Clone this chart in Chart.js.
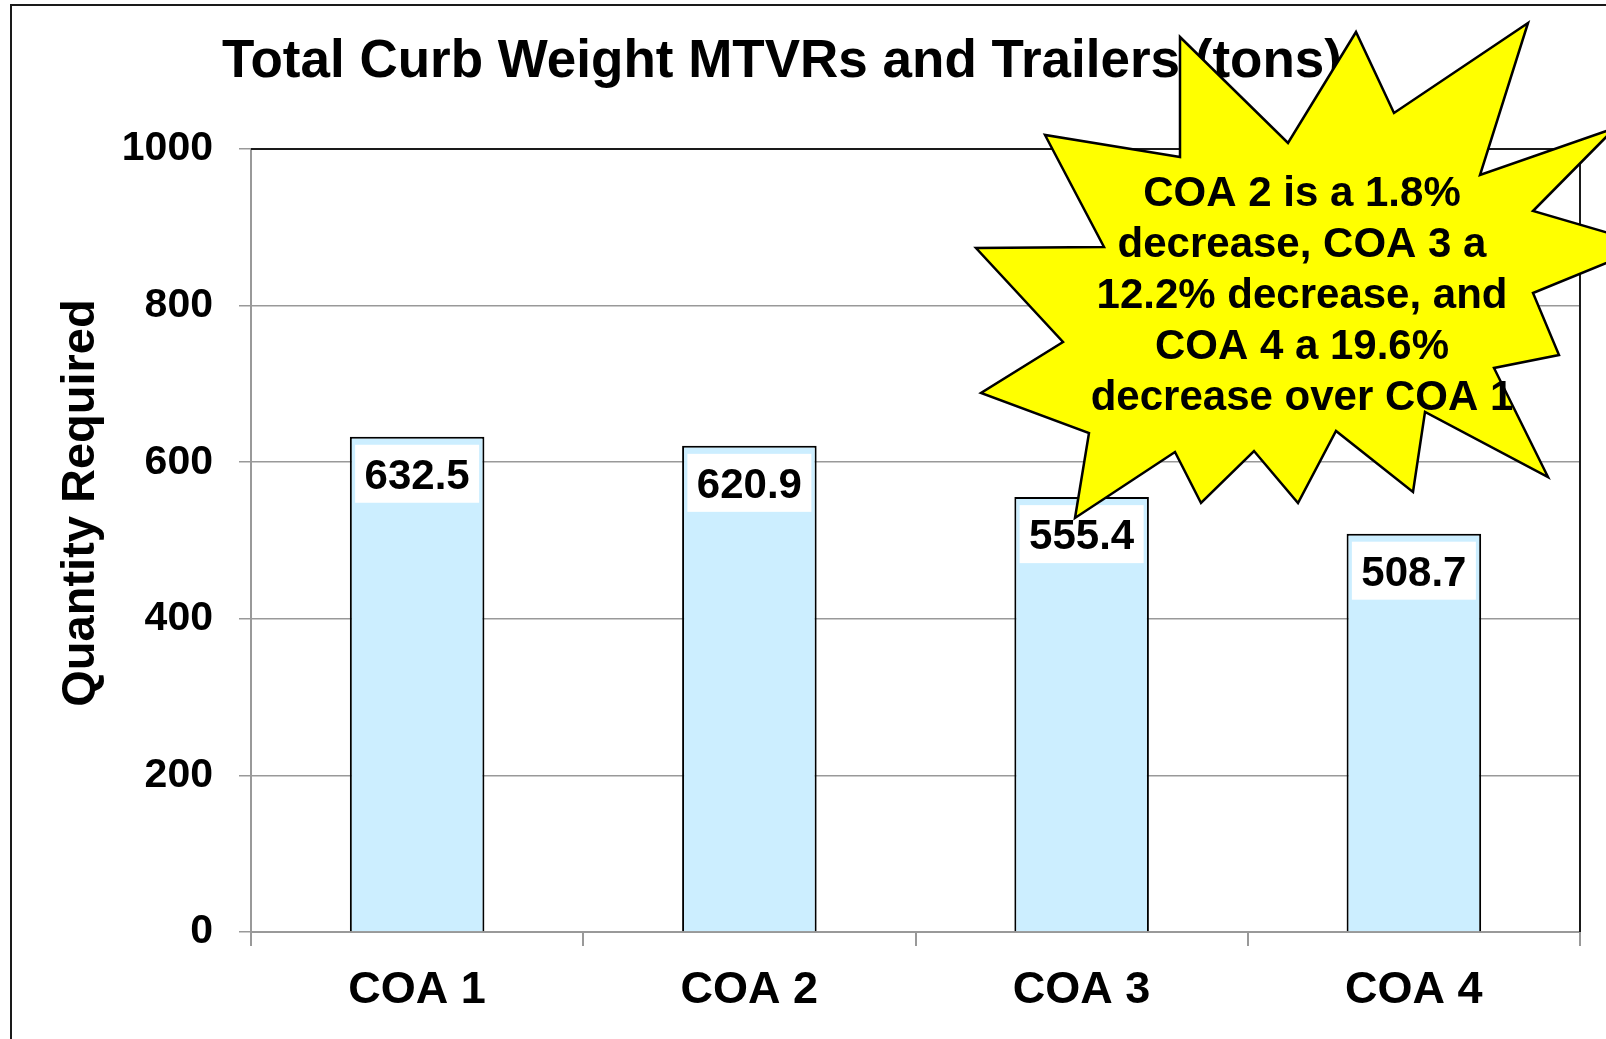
<!DOCTYPE html>
<html>
<head>
<meta charset="utf-8">
<title>Total Curb Weight MTVRs and Trailers</title>
<script src="https://cdn.jsdelivr.net/npm/chart.js@4.4.1/dist/chart.umd.min.js"></script>
<style>
  html, body { margin: 0; padding: 0; background: #fff; overflow: hidden; }
  canvas { display: block; }
</style>
</head>
<body>
<canvas id="curbChart" width="1606" height="1039"></canvas>
<script>
const categories = ['COA 1', 'COA 2', 'COA 3', 'COA 4'];
const curbWeight = [632.5, 620.9, 555.4, 508.7];
const yTickValues = [0, 200, 400, 600, 800, 1000];
const chartTitle = 'Total Curb Weight MTVRs and Trailers (tons)';
const yAxisTitle = 'Quantity Required';
const calloutLines = ['COA 2 is a 1.8%', 'decrease, COA 3 a', '12.2% decrease, and', 'COA 4 a 19.6%', 'decrease over COA 1'];

// outline of the yellow starburst callout (page pixels)
const burst = [
    [1180, 37], [1288, 143], [1356, 32], [1394, 113], [1528, 23], [1480, 175],
    [1615, 128], [1533, 211], [1650, 245], [1533, 293], [1559, 355], [1494, 368],
    [1548, 477], [1425, 412], [1413, 492], [1336, 431], [1298, 503], [1254, 451],
    [1201, 503], [1175, 452], [1075, 518], [1089, 433], [981, 393], [1063, 342],
    [976, 248], [1104, 247], [1045, 135], [1180, 157]
];

const FONT = '"Liberation Sans", Arial, Helvetica, sans-serif';

const decorations = {
    id: 'decorations',
    beforeDraw(chart) {
        const ctx = chart.ctx;
        ctx.save();
        ctx.fillStyle = '#ffffff';
        ctx.fillRect(0, 0, chart.width, chart.height);
        ctx.restore();
    },
    afterDatasetsDraw(chart) {
        const ctx = chart.ctx;
        const area = chart.chartArea;
        ctx.save();

        // value boxes at the top of each bar
        const meta = chart.getDatasetMeta(0);
        meta.data.forEach((bar, i) => {
            const w = 124, h = 58;
            const top = bar.y + 8;
            ctx.fillStyle = '#ffffff';
            ctx.fillRect(bar.x - w / 2, top, w, h);
            ctx.fillStyle = '#000000';
            ctx.font = 'bold 42px ' + FONT;
            ctx.textAlign = 'center';
            ctx.textBaseline = 'alphabetic';
            ctx.fillText(curbWeight[i].toFixed(1), bar.x, top + 29 + 15);
        });

        // dark plot border on top and right
        ctx.strokeStyle = '#1a1a1a';
        ctx.lineWidth = 2;
        ctx.beginPath();
        ctx.moveTo(area.left, area.top);
        ctx.lineTo(area.right, area.top);
        ctx.lineTo(area.right, area.bottom);
        ctx.stroke();
        ctx.restore();
    },
    afterDraw(chart) {
        const ctx = chart.ctx;
        ctx.save();

        // outer frame (left and top edges visible)
        ctx.strokeStyle = '#1a1a1a';
        ctx.lineWidth = 2;
        ctx.beginPath();
        ctx.moveTo(11, chart.height);
        ctx.lineTo(11, 5);
        ctx.lineTo(chart.width, 5);
        ctx.stroke();

        // chart title
        ctx.fillStyle = '#000000';
        ctx.font = 'bold 53px ' + FONT;
        ctx.textAlign = 'center';
        ctx.textBaseline = 'alphabetic';
        ctx.fillText(chartTitle, 782, 77);

        // y axis title
        ctx.save();
        ctx.translate(81, 503);
        ctx.rotate(-Math.PI / 2);
        ctx.font = 'bold 47px ' + FONT;
        ctx.textBaseline = 'middle';
        ctx.fillText(yAxisTitle, 0, 0);
        ctx.restore();

        // starburst callout
        ctx.beginPath();
        burst.forEach((p, i) => i === 0 ? ctx.moveTo(p[0], p[1]) : ctx.lineTo(p[0], p[1]));
        ctx.closePath();
        ctx.fillStyle = '#ffff00';
        ctx.fill();
        ctx.strokeStyle = '#000000';
        ctx.lineWidth = 2.5;
        ctx.lineJoin = 'miter';
        ctx.stroke();

        ctx.fillStyle = '#000000';
        ctx.font = 'bold 42px ' + FONT;
        ctx.textAlign = 'center';
        ctx.textBaseline = 'alphabetic';
        calloutLines.forEach((line, i) => {
            ctx.fillText(line, 1302, 206 + i * 51);
        });
        ctx.restore();
    }
};

document.addEventListener('DOMContentLoaded', function() {
    const ctx = document.getElementById('curbChart').getContext('2d');

    var data = {
        labels: categories,
        datasets: [{
            label: 'Total Curb Weight',
            data: curbWeight,
            backgroundColor: '#cceeff',
            borderColor: '#000000',
            borderWidth: 2,
            categoryPercentage: 1.0,
            barPercentage: 0.405
        }]
    };

    var options = {
        responsive: false,
        animation: false,
        devicePixelRatio: 1,
        layout: {
            padding: { top: 149, right: 26, left: 0, bottom: 0 }
        },
        plugins: {
            legend: { display: false },
            title: { display: false },
            tooltip: { enabled: false }
        },
        scales: {
            x: {
                offset: true,
                grid: {
                    offset: true,
                    drawOnChartArea: false,
                    tickLength: 14,
                    color: '#999999',
                    lineWidth: 2
                },
                border: { color: '#999999', width: 2 },
                ticks: {
                    color: '#000000',
                    padding: 18,
                    font: { family: FONT, size: 45, weight: 'bold' }
                },
                afterFit: (scale) => { scale.height = 107; }
            },
            y: {
                min: 0,
                max: 1000,
                afterBuildTicks: (axis) => {
                    axis.ticks = yTickValues.map(v => ({ value: v }));
                },
                grid: {
                    color: '#999999',
                    lineWidth: 1.5,
                    tickLength: 12
                },
                border: { color: '#999999', width: 2 },
                ticks: {
                    color: '#000000',
                    padding: 26,
                    font: { family: FONT, size: 41, weight: 'bold' },
                    callback: (value) => String(value)
                },
                afterFit: (scale) => { scale.width = 251; }
            }
        }
    };

    new Chart(ctx, {
        type: 'bar',
        data: data,
        options: options,
        plugins: [decorations]
    });
});
</script>
</body>
</html>
